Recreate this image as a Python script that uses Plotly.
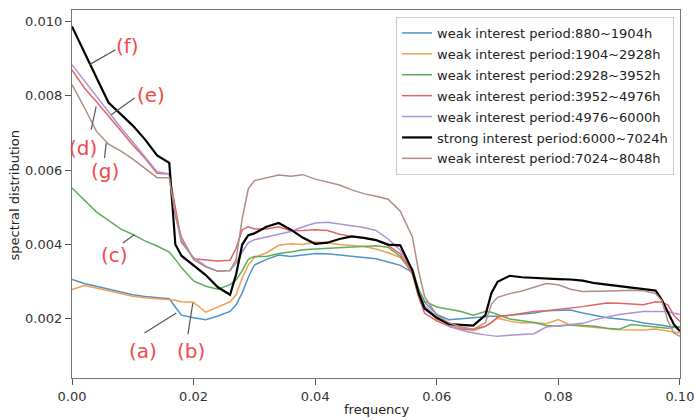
import plotly.graph_objects as go

frequency = [0.000, 0.002, 0.004, 0.006, 0.008, 0.010, 0.012, 0.014, 0.016, 0.017,
             0.018, 0.020, 0.022, 0.024, 0.026, 0.027, 0.028, 0.029, 0.030, 0.032,
             0.034, 0.036, 0.038, 0.040, 0.042, 0.044, 0.046, 0.048, 0.050, 0.052,
             0.054, 0.056, 0.057, 0.058, 0.060, 0.062, 0.064, 0.066, 0.068, 0.069,
             0.070, 0.072, 0.074, 0.076, 0.078, 0.080, 0.082, 0.084, 0.086, 0.088,
             0.090, 0.092, 0.094, 0.096, 0.097, 0.098, 0.099, 0.100]

weak_880_1904 = [0.00306, 0.00295, 0.00288, 0.00280, 0.00272, 0.00265, 0.00260, 0.00256, 0.00254, 0.00232,
                 0.00210, 0.00203, 0.00198, 0.00208, 0.00220, 0.00238, 0.00270, 0.00312, 0.00345, 0.00360,
                 0.00372, 0.00368, 0.00372, 0.00376, 0.00375, 0.00372, 0.00369, 0.00366, 0.00362, 0.00353,
                 0.00344, 0.00325, 0.00280, 0.00245, 0.00212, 0.00198, 0.00200, 0.00203, 0.00206, 0.00207,
                 0.00207, 0.00210, 0.00213, 0.00216, 0.00222, 0.00224, 0.00224, 0.00216, 0.00210, 0.00203,
                 0.00200, 0.00196, 0.00189, 0.00186, 0.00183, 0.00180, 0.00178, 0.00178]

weak_1904_2928 = [0.00279, 0.00290, 0.00283, 0.00275, 0.00268, 0.00261, 0.00257, 0.00254, 0.00252, 0.00250,
                  0.00246, 0.00245, 0.00218, 0.00232, 0.00246, 0.00265, 0.00310, 0.00345, 0.00365, 0.00378,
                  0.00398, 0.00402, 0.00400, 0.00407, 0.00405, 0.00400, 0.00397, 0.00395, 0.00388, 0.00378,
                  0.00365, 0.00325, 0.00260, 0.00230, 0.00200, 0.00186, 0.00175, 0.00168, 0.00180, 0.00190,
                  0.00202, 0.00194, 0.00189, 0.00190, 0.00187, 0.00198, 0.00183, 0.00180, 0.00178, 0.00174,
                  0.00171, 0.00170, 0.00170, 0.00173, 0.00170, 0.00167, 0.00165, 0.00162]

weak_2928_3952 = [0.00552, 0.00520, 0.00488, 0.00465, 0.00442, 0.00427, 0.00410, 0.00396, 0.00380, 0.00360,
                  0.00338, 0.00302, 0.00288, 0.00280, 0.00292, 0.00305, 0.00330, 0.00360, 0.00368, 0.00368,
                  0.00376, 0.00380, 0.00386, 0.00388, 0.00390, 0.00391, 0.00394, 0.00396, 0.00397, 0.00393,
                  0.00368, 0.00335, 0.00280, 0.00248, 0.00232, 0.00226, 0.00220, 0.00210, 0.00220, 0.00218,
                  0.00212, 0.00200, 0.00195, 0.00190, 0.00182, 0.00180, 0.00184, 0.00182, 0.00180, 0.00175,
                  0.00172, 0.00185, 0.00182, 0.00178, 0.00176, 0.00175, 0.00177, 0.00178]

weak_3952_4976 = [0.00870, 0.00822, 0.00785, 0.00745, 0.00708, 0.00668, 0.00632, 0.00592, 0.00590, 0.00500,
                  0.00410, 0.00362, 0.00360, 0.00356, 0.00358, 0.00390, 0.00440, 0.00448, 0.00442, 0.00442,
                  0.00448, 0.00437, 0.00438, 0.00440, 0.00438, 0.00428, 0.00422, 0.00416, 0.00412, 0.00398,
                  0.00375, 0.00320, 0.00260, 0.00215, 0.00195, 0.00180, 0.00172, 0.00172, 0.00180, 0.00190,
                  0.00205, 0.00210, 0.00215, 0.00220, 0.00222, 0.00225, 0.00228, 0.00233, 0.00238, 0.00243,
                  0.00242, 0.00240, 0.00238, 0.00246, 0.00245, 0.00238, 0.00210, 0.00193]

weak_4976_6000 = [0.00884, 0.00842, 0.00797, 0.00755, 0.00715, 0.00676, 0.00637, 0.00596, 0.00590, 0.00480,
                  0.00405, 0.00365, 0.00342, 0.00328, 0.00330, 0.00350, 0.00380, 0.00405, 0.00413, 0.00420,
                  0.00428, 0.00435, 0.00448, 0.00458, 0.00460, 0.00455, 0.00451, 0.00446, 0.00438, 0.00415,
                  0.00385, 0.00330, 0.00270, 0.00235, 0.00205, 0.00180, 0.00170, 0.00162, 0.00157, 0.00155,
                  0.00153, 0.00156, 0.00157, 0.00160, 0.00178, 0.00181, 0.00184, 0.00188, 0.00198, 0.00205,
                  0.00212, 0.00216, 0.00220, 0.00220, 0.00220, 0.00220, 0.00215, 0.00212]

strong_6000_7024 = [0.00987, 0.00917, 0.00850, 0.00782, 0.00752, 0.00720, 0.00683, 0.00640, 0.00620, 0.00400,
                    0.00370, 0.00345, 0.00318, 0.00285, 0.00265, 0.00320, 0.00400, 0.00425, 0.00430, 0.00448,
                    0.00458, 0.00440, 0.00418, 0.00402, 0.00405, 0.00415, 0.00422, 0.00418, 0.00412, 0.00400,
                    0.00398, 0.00330, 0.00270, 0.00228, 0.00203, 0.00186, 0.00183, 0.00182, 0.00210, 0.00270,
                    0.00300, 0.00316, 0.00312, 0.00310, 0.00309, 0.00307, 0.00306, 0.00303, 0.00296, 0.00292,
                    0.00287, 0.00283, 0.00280, 0.00276, 0.00252, 0.00218, 0.00185, 0.00167]

weak_7024_8048 = [0.00830, 0.00770, 0.00705, 0.00670, 0.00652, 0.00630, 0.00605, 0.00580, 0.00580, 0.00480,
                  0.00420, 0.00360, 0.00340, 0.00328, 0.00330, 0.00360, 0.00470, 0.00550, 0.00572, 0.00580,
                  0.00587, 0.00584, 0.00588, 0.00576, 0.00567, 0.00560, 0.00547, 0.00537, 0.00530, 0.00522,
                  0.00490, 0.00420, 0.00330, 0.00260, 0.00210, 0.00190, 0.00178, 0.00172, 0.00190, 0.00240,
                  0.00258, 0.00268, 0.00275, 0.00285, 0.00295, 0.00292, 0.00280, 0.00274, 0.00274, 0.00275,
                  0.00276, 0.00277, 0.00276, 0.00268, 0.00250, 0.00195, 0.00162, 0.00153]

series_names = ["weak interest period:880~1904h", "weak interest period:1904~2928h",
                "weak interest period:2928~3952h", "weak interest period:3952~4976h",
                "weak interest period:4976~6000h", "strong interest period:6000~7024h",
                "weak interest period:7024~8048h"]
series_values = [weak_880_1904, weak_1904_2928, weak_2928_3952, weak_3952_4976,
                 weak_4976_6000, strong_6000_7024, weak_7024_8048]
series_colors = ["#4f93c8", "#f2a04e", "#5cae5c", "#e36464", "#ad93d2", "#000000", "#b08c84"]
series_widths = [1.5, 1.5, 1.5, 1.5, 1.5, 2.2, 1.5]

x_ticks = [0.00, 0.02, 0.04, 0.06, 0.08, 0.10]
y_ticks = [0.002, 0.004, 0.006, 0.008, 0.010]

# curve labels: (text, text position, leader line start, leader line end) in data units
labels = [
    ("(f)", (0.00919, 0.00933), (0.00716, 0.00924), (0.00288, 0.00884)),
    ("(e)", (0.01304, 0.00803), (0.01029, 0.00794), (0.00645, 0.00749)),
    ("(d)", (0.00178, 0.00660), (0.00316, 0.00709), (0.00398, 0.00772)),
    ("(g)", (0.00535, 0.00597), (0.00535, 0.00633), (0.00563, 0.00673)),
    ("(c)", (0.00700, 0.00373), (0.00836, 0.00404), (0.01029, 0.00427)),
    ("(a)", (0.01165, 0.00113), (0.01193, 0.00162), (0.01715, 0.00216)),
    ("(b)", (0.01962, 0.00113), (0.01906, 0.00158), (0.01988, 0.00243)),
]

fig = go.Figure()
for i, (name, vals, col, w) in enumerate(zip(series_names, series_values, series_colors, series_widths)):
    fig.add_trace(go.Scatter(x=frequency, y=vals, mode="lines", name=name,
                             legendgroup=f"g{i}",
                             line=dict(color=col, width=w)))

for txt, tpos, l0, l1 in labels:
    fig.add_shape(type="line", x0=l0[0], y0=l0[1], x1=l1[0], y1=l1[1],
                  xref="x", yref="y", line=dict(color="#555555", width=1.2))
    fig.add_annotation(x=tpos[0], y=tpos[1], xref="x", yref="y", text=txt,
                       showarrow=False, font=dict(size=20, color="#f24a4a", family="DejaVu Sans"))

fig.add_annotation(x=0.501, y=-0.085, xref="paper", yref="paper", text="frequency",
                   showarrow=False, font=dict(size=13, color="#222"), yanchor="middle")
fig.add_annotation(x=-0.0947, y=0.497, xref="paper", yref="paper", text="spectral distribution",
                   showarrow=False, textangle=-90, font=dict(size=13, color="#222"), xanchor="center")

axis_common = dict(showline=True, linecolor="#777777", linewidth=1.3, mirror=True,
                   ticks="outside", ticklen=6, tickcolor="#555555", showgrid=False, zeroline=False,
                   tickfont=dict(size=13, color="#333"), ticklabeloverflow="allow", automargin=False)
fig.update_xaxes(range=[0, 0.10001], tickvals=x_ticks, tickformat=".2f", **axis_common)
fig.update_yaxes(range=[0.00041, 0.01031], tickvals=y_ticks, tickformat=".3f", **axis_common)

fig.update_layout(
    width=694, height=420,
    margin=dict(l=72, r=14, t=10, b=42),
    plot_bgcolor="white", paper_bgcolor="white",
    font=dict(family="DejaVu Sans", color="#222"),
    legend=dict(x=0.533, y=0.981, xanchor="left", yanchor="top",
                bordercolor="#cccccc", borderwidth=1, bgcolor="white",
                font=dict(size=13, color="#222"), itemwidth=30,
                traceorder="grouped", tracegroupgap=1),
    showlegend=True,
)

fig.write_html("out.html", config={"displayModeBar": False},
               post_script="document.body.style.margin='0px';")
